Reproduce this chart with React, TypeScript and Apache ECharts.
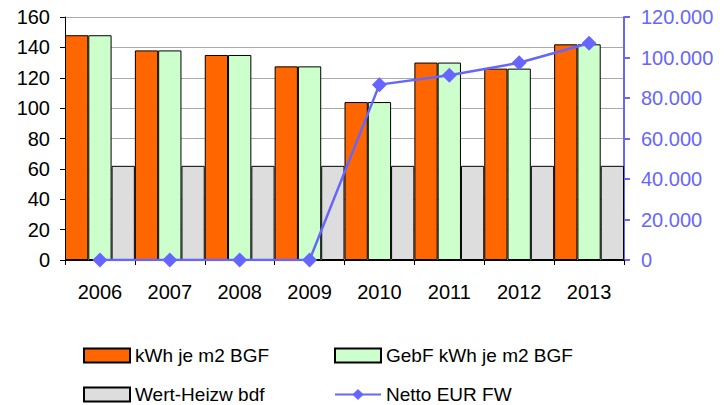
import React, { useEffect, useRef } from "react";
import * as echarts from "echarts";

const years = ["2006", "2007", "2008", "2009", "2010", "2011", "2012", "2013"];
const kwhBGF = [148, 138, 135, 127.5, 104, 130, 126, 142];
const gebfKwhBGF = [148, 138, 135, 127.5, 104, 130, 126, 142];
const wertHeizw = [62, 62, 62, 62, 62, 62, 62, 62];
const nettoEurFW = [0, 0, 0, 0, 86600, 91200, 97400, 107000];

const FONT = "'Liberation Sans', Arial, sans-serif";
const BLUE = "#6666ff";

function fmtDE(v: number): string {
  const s = Math.round(v).toString();
  return s.replace(/\B(?=(\d{3})+(?!\d))/g, ".");
}

export default function App() {
  const ref = useRef<HTMLDivElement>(null);
  useEffect(() => {
    if (!ref.current) return;
    const chart = echarts.init(ref.current, null, { renderer: "svg" });
    const legendText = { fontFamily: FONT, fontSize: 19, color: "#000" };
    const mkLegend = (name: string, left: number, top: number, icon?: string) => ({
      data: [icon ? { name, icon } : name],
      left,
      top,
      padding: 0,
      itemWidth: 46,
      itemHeight: 14,
      itemGap: 6,
      textStyle: legendText,
      selectedMode: false,
    });
    const barCommon = {
      type: "bar",
      barWidth: "33.33%",
      barGap: "0%",
      barCategoryGap: "0%",
    };
    chart.setOption({
      animation: false,
      backgroundColor: "#fff",
      textStyle: { fontFamily: FONT },
      grid: { left: 65, right: 103, top: 17, bottom: 145, containLabel: false },
      legend: [
        mkLegend("kWh je m2 BGF", 83, 346, "rect"),
        mkLegend("GebF kWh je m2 BGF", 334, 346, "rect"),
        mkLegend("Wert-Heizw bdf", 83, 385, "rect"),
        mkLegend("Netto EUR FW", 334, 385),
      ],
      xAxis: {
        type: "category",
        data: years,
        boundaryGap: true,
        axisLine: { lineStyle: { color: "#000", width: 1 } },
        axisTick: { show: true, length: 5, lineStyle: { color: "#000" } },
        axisLabel: { fontFamily: FONT, fontSize: 20, color: "#000", margin: 22 },
      },
      yAxis: [
        {
          type: "value",
          min: 0,
          max: 160,
          interval: 20,
          axisLine: { show: true, lineStyle: { color: "#000" } },
          axisTick: { show: true, length: 5, lineStyle: { color: "#000" } },
          axisLabel: { fontFamily: FONT, fontSize: 20, color: "#000", margin: 15 },
          splitLine: { show: true, lineStyle: { color: "#aaaaaa", width: 1 } },
        },
        {
          type: "value",
          min: 0,
          max: 120000,
          interval: 20000,
          position: "right",
          axisLine: { show: true, lineStyle: { color: BLUE, width: 2 } },
          axisTick: { show: true, length: 6, lineStyle: { color: BLUE, width: 2 } },
          axisLabel: {
            fontFamily: FONT,
            fontSize: 20,
            color: BLUE,
            margin: 17,
            formatter: (v: number) => fmtDE(v),
          },
          splitLine: { show: false },
        },
      ],
      series: [
        {
          ...barCommon,
          name: "kWh je m2 BGF",
          data: kwhBGF,
          itemStyle: { color: "#ff6600", borderColor: "#000", borderWidth: 1 },
        },
        {
          ...barCommon,
          name: "GebF kWh je m2 BGF",
          data: gebfKwhBGF,
          itemStyle: { color: "#ccffcc", borderColor: "#000", borderWidth: 1 },
        },
        {
          ...barCommon,
          name: "Wert-Heizw bdf",
          data: wertHeizw,
          itemStyle: { color: "#dddddd", borderColor: "#000", borderWidth: 1 },
        },
        {
          name: "Netto EUR FW",
          type: "line",
          yAxisIndex: 1,
          data: nettoEurFW,
          symbol: "diamond",
          symbolSize: 15,
          z: 5,
          lineStyle: { color: BLUE, width: 2.5 },
          itemStyle: { color: BLUE },
        },
      ],
    });
    return () => chart.dispose();
  }, []);
  return <div ref={ref} style={{ width: 727, height: 405, position: "absolute", left: 0, top: 0 }} />;
}
